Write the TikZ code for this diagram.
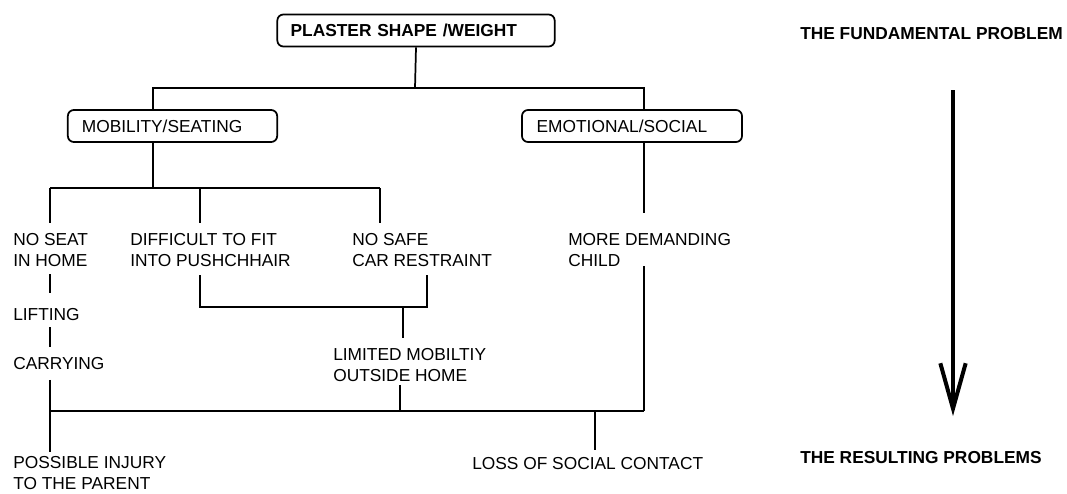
\documentclass[tikz,border=0pt]{standalone}
\usepackage{fontspec}
\setmainfont{Liberation Sans}
\usepackage{tikz}
\usetikzlibrary{arrows.meta}
\tikzset{
  box/.style={draw,line width=1.3pt,rounded corners=4.5pt,inner xsep=10pt,minimum height=24pt,align=left},
  txt/.style={anchor=north west,inner sep=0pt,align=left},
  ln/.style={line width=1.3pt},
}
\begin{document}
\begin{tikzpicture}[x=0.75pt,y=-0.75pt,font=\fontsize{13}{15.5}\selectfont]
    \useasboundingbox (0,0) rectangle (1067,493);
    \node[box,text width=188pt,font=\fontsize{13}{15.5}\selectfont\bfseries] (plaster) at (416,30.5) {PLASTER SHAPE /WEIGHT};
    \node[box,text width=136pt,inner xsep=10.5pt] (mob) at (172.5,126) {MOBILITY/SEATING};
    \node[box,text width=143pt,inner xsep=11pt] (emo) at (632,126) {EMOTIONAL/SOCIAL};
    \node[txt] (noseat) at (13,233) {NO SEAT\\IN HOME};
    \node[txt] (difficult) at (130,233) {DIFFICULT TO FIT\\INTO PUSHCHHAIR};
    \node[txt] (nosafe) at (352,233) {NO SAFE\\CAR RESTRAINT};
    \node[txt] (lifting) at (13,308) {LIFTING};
    \node[txt] (carrying) at (13,357) {CARRYING};
    \node[txt] (limited) at (333,348) {LIMITED MOBILTIY\\OUTSIDE HOME};
    \node[txt] (demanding) at (568,233) {MORE DEMANDING\\CHILD};
    \node[txt] (injury) at (13,456) {POSSIBLE INJURY\\TO THE PARENT};
    \node[txt] (loss) at (472,457) {LOSS OF SOCIAL CONTACT};
    \node[txt,font=\fontsize{13}{15.5}\selectfont\bfseries] (fund) at (800,27) {THE FUNDAMENTAL PROBLEM};
    \node[txt,font=\fontsize{13}{15.5}\selectfont\bfseries] (result) at (800,451) {THE RESULTING PROBLEMS};
    \coordinate (top) at (415,88);
    \coordinate (topL) at (153,88);
    \coordinate (topR) at (644,88);
    \coordinate (midL) at (50,188);
    \coordinate (midM) at (200,188);
    \coordinate (midR) at (380,188);
    \coordinate (pairL) at (200,275);
    \coordinate (pairR) at (427,275);
    \coordinate (pairM) at (403,307);
    \coordinate (lowL) at (50,411);
    \coordinate (lowM) at (400,411);
    \coordinate (lowS) at (595,411);
    \coordinate (lowR) at (644,411);
    \coordinate (arrtop) at (953,90);
    \coordinate (arrtip) at (953,416);
    \draw[ln] (plaster.south) -- (top);
    \draw[ln] (topL |- mob.north) -- (topL) -- (topR) -- (topR |- emo.north);
    \draw[ln] (topL |- mob.south) -- (topL |- midL);
    \draw[ln] (midL) -- (midR);
    \draw[ln,shorten >=7.5pt] (midL) -- (midL |- noseat.north);
    \draw[ln,shorten >=7.5pt] (midM) -- (midM |- difficult.north);
    \draw[ln,shorten >=7.5pt] (midR) -- (midR |- nosafe.north);
    \draw[ln,shorten <=6pt,shorten >=11pt] (midL |- noseat.south) -- (midL |- lifting.north);
    \draw[ln,shorten <=5pt,shorten >=7.5pt] (midL |- lifting.south) -- (midL |- carrying.north);
    \draw[ln,shorten <=7.5pt,shorten >=3pt] (midL |- carrying.south) -- (midL |- injury.north);
    \draw[ln] (pairL) |- (pairM) -| (pairR);
    \draw[ln,shorten >=7.5pt] (pairM) -- (pairM |- limited.north);
    \draw[ln,shorten <=2.5pt] (lowM |- limited.south) -- (lowM);
    \draw[ln] (lowL) -- (lowR);
    \draw[ln,shorten >=15pt] (topR |- emo.south) -- (topR |- demanding.north);
    \draw[ln] (topR |- demanding.south) -- (lowR);
    \draw[ln,shorten >=5pt] (lowS) -- (lowS |- loss.north);
    \draw[line width=3.5pt,-{Straight Barb[length=34pt,width=19pt,line width=3pt]}] (arrtop) -- (arrtip);
\end{tikzpicture}
\end{document}
